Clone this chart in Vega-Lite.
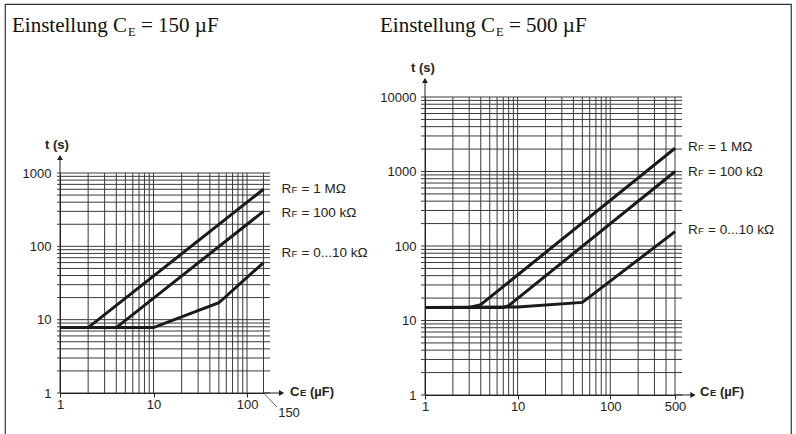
{
  "$schema": "https://vega.github.io/schema/vega-lite/v6.json",
  "width": 796,
  "height": 434,
  "autosize": {"type": "fit", "contains": "padding"},
  "padding": {"left": 5, "top": 4, "right": 5, "bottom": -4},
  "background": "white",
  "config": {
    "view": {"stroke": "#333", "strokeWidth": 1.2},
    "axis": {"labelFont": "Liberation Sans", "labelFontSize": 13, "labelColor": "#222", "domainColor": "#222", "tickColor": "#222", "grid": false, "labelOverlap": false, "labelFlush": false, "format": "d"},
    "text": {"font": "Liberation Sans", "fontSize": 13, "color": "#222"}
  },
  "datasets": {
    "one": [{}],
    "gridAx": [{"v":1},{"v":2},{"v":3},{"v":4},{"v":5},{"v":6},{"v":7},{"v":8},{"v":9},{"v":10},{"v":20},{"v":30},{"v":40},{"v":50},{"v":60},{"v":70},{"v":80},{"v":90},{"v":100},{"v":150}],
    "gridAy": [{"v":1},{"v":2},{"v":3},{"v":4},{"v":5},{"v":6},{"v":7},{"v":8},{"v":9},{"v":10},{"v":20},{"v":30},{"v":40},{"v":50},{"v":60},{"v":70},{"v":80},{"v":90},{"v":100},{"v":200},{"v":300},{"v":400},{"v":500},{"v":600},{"v":700},{"v":800},{"v":900},{"v":1000}],
    "gridBx": [{"v":1},{"v":2},{"v":3},{"v":4},{"v":5},{"v":6},{"v":7},{"v":8},{"v":9},{"v":10},{"v":20},{"v":30},{"v":40},{"v":50},{"v":60},{"v":70},{"v":80},{"v":90},{"v":100},{"v":200},{"v":300},{"v":400},{"v":500}],
    "gridBy": [{"v":1},{"v":2},{"v":3},{"v":4},{"v":5},{"v":6},{"v":7},{"v":8},{"v":9},{"v":10},{"v":20},{"v":30},{"v":40},{"v":50},{"v":60},{"v":70},{"v":80},{"v":90},{"v":100},{"v":200},{"v":300},{"v":400},{"v":500},{"v":600},{"v":700},{"v":800},{"v":900},{"v":1000},{"v":2000},{"v":3000},{"v":4000},{"v":5000},{"v":6000},{"v":7000},{"v":8000},{"v":9000},{"v":10000}],
    "lineA": [
      {"s":"1M","x":1,"t":7.8},{"s":"1M","x":2,"t":7.8},{"s":"1M","x":150,"t":600},
      {"s":"100k","x":1,"t":7.8},{"s":"100k","x":4,"t":7.8},{"s":"100k","x":150,"t":300},
      {"s":"10k","x":1,"t":7.8},{"s":"10k","x":10,"t":7.8},{"s":"10k","x":50,"t":17},{"s":"10k","x":150,"t":60}
    ],
    "lineB": [
      {"s":"1M","x":1,"t":15},{"s":"1M","x":3,"t":15},{"s":"1M","x":4,"t":16.3},{"s":"1M","x":500,"t":2050},
      {"s":"100k","x":1,"t":15},{"s":"100k","x":7,"t":15},{"s":"100k","x":8,"t":15.8},{"s":"100k","x":500,"t":1000},
      {"s":"10k","x":1,"t":15},{"s":"10k","x":10,"t":15.2},{"s":"10k","x":50,"t":17.5},{"s":"10k","x":500,"t":156}
    ],
    "labA": [{"s":"1M","ly":625,"rest":"= 1 MΩ"},{"s":"100k","ly":294,"rest":"= 100 kΩ"},{"s":"10k","ly":83.7,"rest":"= 0...10 kΩ"}],
    "labB": [{"s":"1M","ly":2198,"rest":"= 1 MΩ"},{"s":"100k","ly":1016,"rest":"= 100 kΩ"},{"s":"10k","ly":169,"rest":"= 0...10 kΩ"}]
  },
  "layer": [
    {
      "layer": [
        {"data": {"name": "gridAx"}, "mark": {"type": "rule", "color": "#3a3a3a", "strokeWidth": 1},
         "encoding": {
           "x": {"field": "v", "type": "quantitative", "scale": {"type": "log", "domain": [1, 150], "range": [55, 258.5], "nice": false},
                 "axis": {"orient": "bottom", "offset": -45, "values": [1, 10, 100], "tickSize": 4, "labelPadding": 1, "title": null, "zindex": 1, "format": "d"}},
           "y": {"datum": 1, "type": "quantitative"},
           "y2": {"datum": 1000}}},
        {"data": {"name": "gridAy"}, "mark": {"type": "rule", "color": "#3a3a3a", "strokeWidth": 1},
         "encoding": {
           "y": {"field": "v", "type": "quantitative", "scale": {"type": "log", "domain": [1, 1000], "range": [389, 169], "nice": false},
                 "axis": {"orient": "left", "offset": -55, "values": [1, 10, 100, 1000], "ticks": false, "labelPadding": 9, "title": null, "zindex": 1, "format": "d"}},
           "x": {"datum": 0.93, "type": "quantitative"},
           "x2": {"datum": 176}}},
        {"data": {"name": "lineA"}, "mark": {"type": "line", "color": "#1a1a1a", "strokeWidth": 3, "strokeJoin": "miter"},
         "encoding": {"x": {"field": "x", "type": "quantitative"}, "y": {"field": "t", "type": "quantitative"}, "detail": {"field": "s"}}},
        {"data": {"name": "one"}, "mark": {"type": "rule", "color": "#222", "strokeWidth": 1},
         "encoding": {"x": {"datum": 1, "type": "quantitative"}, "y": {"datum": 1000, "type": "quantitative"}, "y2": {"datum": 1700}}},
        {"data": {"name": "one"}, "mark": {"type": "point", "shape": "triangle-up", "filled": true, "size": 36, "color": "#222", "opacity": 1},
         "encoding": {"x": {"datum": 1, "type": "quantitative"}, "y": {"datum": 1627, "type": "quantitative"}}},
        {"data": {"name": "one"}, "mark": {"type": "rule", "color": "#222", "strokeWidth": 1},
         "encoding": {"x": {"datum": 150, "type": "quantitative"}, "x2": {"datum": 228}, "y": {"datum": 1, "type": "quantitative"}}},
        {"data": {"name": "one"}, "mark": {"type": "point", "shape": "triangle-right", "filled": true, "size": 36, "color": "#222", "opacity": 1},
         "encoding": {"x": {"datum": 234, "type": "quantitative"}, "y": {"datum": 1, "type": "quantitative"}}},
        {"data": {"name": "one"}, "mark": {"type": "rule", "color": "#444", "strokeWidth": 0.8},
         "encoding": {"x": {"datum": 150, "type": "quantitative"}, "y": {"datum": 1, "type": "quantitative"}, "x2": {"datum": 209}, "y2": {"datum": 0.644}}},
        {"data": {"name": "one"}, "mark": {"type": "text", "text": "150", "align": "center", "baseline": "middle"},
         "encoding": {"x": {"datum": 281, "type": "quantitative"}, "y": {"datum": 0.533, "type": "quantitative"}}},
        {"data": {"name": "one"}, "mark": {"type": "text", "text": "t (s)", "fontWeight": "bold", "align": "center", "baseline": "middle"},
         "encoding": {"x": {"datum": 0.929, "type": "quantitative"}, "y": {"datum": 2410, "type": "quantitative"}}},
        {"data": {"name": "one"}, "mark": {"type": "text", "text": "C", "fontWeight": "bold", "align": "left", "baseline": "alphabetic", "dx": 26.5, "dy": 3},
         "encoding": {"x": {"datum": 150, "type": "quantitative"}, "y": {"datum": 1, "type": "quantitative"}}},
        {"data": {"name": "one"}, "mark": {"type": "text", "text": "E", "fontWeight": "bold", "fontSize": 9.5, "align": "left", "baseline": "alphabetic", "dx": 36.5, "dy": 3},
         "encoding": {"x": {"datum": 150, "type": "quantitative"}, "y": {"datum": 1, "type": "quantitative"}}},
        {"data": {"name": "one"}, "mark": {"type": "text", "text": "(µF)", "fontWeight": "bold", "align": "left", "baseline": "alphabetic", "dx": 46.5, "dy": 3},
         "encoding": {"x": {"datum": 150, "type": "quantitative"}, "y": {"datum": 1, "type": "quantitative"}}},
        {"data": {"name": "one"}, "mark": {"type": "text", "text": "Einstellung C", "font": "Liberation Serif", "fontSize": 21, "align": "left", "baseline": "alphabetic", "color": "#111"},
         "encoding": {"x": {"datum": 0.3067, "type": "quantitative"}, "y": {"datum": 83800, "type": "quantitative"}}},
        {"data": {"name": "one"}, "mark": {"type": "text", "text": "E", "font": "Liberation Serif", "fontSize": 12.5, "align": "left", "baseline": "alphabetic", "dx": 116, "dy": 4, "color": "#111"},
         "encoding": {"x": {"datum": 0.3067, "type": "quantitative"}, "y": {"datum": 83800, "type": "quantitative"}}},
        {"data": {"name": "one"}, "mark": {"type": "text", "text": "= 150 µF", "font": "Liberation Serif", "fontSize": 21, "align": "left", "baseline": "alphabetic", "dx": 129, "color": "#111"},
         "encoding": {"x": {"datum": 0.3067, "type": "quantitative"}, "y": {"datum": 83800, "type": "quantitative"}}},
        {"data": {"name": "labA"}, "mark": {"type": "text", "text": "R", "fontSize": 13.5, "align": "left", "baseline": "alphabetic", "dx": 18, "dy": 5},
         "encoding": {"x": {"datum": 150, "type": "quantitative"}, "y": {"field": "ly", "type": "quantitative"}}},
        {"data": {"name": "labA"}, "mark": {"type": "text", "text": "F", "fontSize": 9.5, "align": "left", "baseline": "alphabetic", "dx": 28, "dy": 5},
         "encoding": {"x": {"datum": 150, "type": "quantitative"}, "y": {"field": "ly", "type": "quantitative"}}},
        {"data": {"name": "labA"}, "mark": {"type": "text", "fontSize": 13.5, "align": "left", "baseline": "alphabetic", "dx": 38, "dy": 5},
         "encoding": {"x": {"datum": 150, "type": "quantitative"}, "y": {"field": "ly", "type": "quantitative"}, "text": {"field": "rest"}}}
      ]
    },
    {
      "layer": [
        {"data": {"name": "gridBx"}, "mark": {"type": "rule", "color": "#3a3a3a", "strokeWidth": 1},
         "encoding": {
           "x": {"field": "v", "type": "quantitative", "scale": {"type": "log", "domain": [1, 500], "range": [420, 670], "nice": false},
                 "axis": {"orient": "bottom", "offset": -43, "values": [1, 10, 100, 500], "tickSize": 4, "labelPadding": 1, "title": null, "zindex": 1, "format": "d"}},
           "y": {"datum": 1, "type": "quantitative"},
           "y2": {"datum": 10000}}},
        {"data": {"name": "gridBy"}, "mark": {"type": "rule", "color": "#3a3a3a", "strokeWidth": 1},
         "encoding": {
           "y": {"field": "v", "type": "quantitative", "scale": {"type": "log", "domain": [1, 10000], "range": [391, 93], "nice": false},
                 "axis": {"orient": "left", "offset": -420, "values": [1, 10, 100, 1000, 10000], "ticks": false, "labelPadding": 9, "title": null, "zindex": 1, "format": "d"}},
           "x": {"datum": 0.905, "type": "quantitative"},
           "x2": {"datum": 596}}},
        {"data": {"name": "lineB"}, "mark": {"type": "line", "color": "#1a1a1a", "strokeWidth": 3, "strokeJoin": "miter"},
         "encoding": {"x": {"field": "x", "type": "quantitative"}, "y": {"field": "t", "type": "quantitative"}, "detail": {"field": "s"}}},
        {"data": {"name": "one"}, "mark": {"type": "rule", "color": "#222", "strokeWidth": 1},
         "encoding": {"x": {"datum": 1, "type": "quantitative"}, "y": {"datum": 10000, "type": "quantitative"}, "y2": {"datum": 17450}}},
        {"data": {"name": "one"}, "mark": {"type": "point", "shape": "triangle-up", "filled": true, "size": 36, "color": "#222", "opacity": 1},
         "encoding": {"x": {"datum": 1, "type": "quantitative"}, "y": {"datum": 16650, "type": "quantitative"}}},
        {"data": {"name": "one"}, "mark": {"type": "rule", "color": "#222", "strokeWidth": 1},
         "encoding": {"x": {"datum": 500, "type": "quantitative"}, "x2": {"datum": 744}, "y": {"datum": 1, "type": "quantitative"}}},
        {"data": {"name": "one"}, "mark": {"type": "point", "shape": "triangle-right", "filled": true, "size": 36, "color": "#222", "opacity": 1},
         "encoding": {"x": {"datum": 782, "type": "quantitative"}, "y": {"datum": 1, "type": "quantitative"}}},
        {"data": {"name": "one"}, "mark": {"type": "text", "text": "t (s)", "fontWeight": "bold", "align": "center", "baseline": "middle"},
         "encoding": {"x": {"datum": 0.9515, "type": "quantitative"}, "y": {"datum": 24500, "type": "quantitative"}}},
        {"data": {"name": "one"}, "mark": {"type": "text", "text": "C", "fontWeight": "bold", "align": "left", "baseline": "alphabetic", "dx": 25, "dy": 1},
         "encoding": {"x": {"datum": 500, "type": "quantitative"}, "y": {"datum": 1, "type": "quantitative"}}},
        {"data": {"name": "one"}, "mark": {"type": "text", "text": "E", "fontWeight": "bold", "fontSize": 9.5, "align": "left", "baseline": "alphabetic", "dx": 35, "dy": 1},
         "encoding": {"x": {"datum": 500, "type": "quantitative"}, "y": {"datum": 1, "type": "quantitative"}}},
        {"data": {"name": "one"}, "mark": {"type": "text", "text": "(µF)", "fontWeight": "bold", "align": "left", "baseline": "alphabetic", "dx": 45, "dy": 1},
         "encoding": {"x": {"datum": 500, "type": "quantitative"}, "y": {"datum": 1, "type": "quantitative"}}},
        {"data": {"name": "one"}, "mark": {"type": "text", "text": "Einstellung C", "font": "Liberation Serif", "fontSize": 21, "align": "left", "baseline": "alphabetic", "color": "#111"},
         "encoding": {"x": {"datum": 0.3266, "type": "quantitative"}, "y": {"datum": 74500, "type": "quantitative"}}},
        {"data": {"name": "one"}, "mark": {"type": "text", "text": "E", "font": "Liberation Serif", "fontSize": 12.5, "align": "left", "baseline": "alphabetic", "dx": 116, "dy": 4, "color": "#111"},
         "encoding": {"x": {"datum": 0.3266, "type": "quantitative"}, "y": {"datum": 74500, "type": "quantitative"}}},
        {"data": {"name": "one"}, "mark": {"type": "text", "text": "= 500 µF", "font": "Liberation Serif", "fontSize": 21, "align": "left", "baseline": "alphabetic", "dx": 129, "color": "#111"},
         "encoding": {"x": {"datum": 0.3266, "type": "quantitative"}, "y": {"datum": 74500, "type": "quantitative"}}},
        {"data": {"name": "labB"}, "mark": {"type": "text", "text": "R", "fontSize": 13.5, "align": "left", "baseline": "alphabetic", "dx": 13, "dy": 5},
         "encoding": {"x": {"datum": 500, "type": "quantitative"}, "y": {"field": "ly", "type": "quantitative"}}},
        {"data": {"name": "labB"}, "mark": {"type": "text", "text": "F", "fontSize": 9.5, "align": "left", "baseline": "alphabetic", "dx": 23, "dy": 5},
         "encoding": {"x": {"datum": 500, "type": "quantitative"}, "y": {"field": "ly", "type": "quantitative"}}},
        {"data": {"name": "labB"}, "mark": {"type": "text", "fontSize": 13.5, "align": "left", "baseline": "alphabetic", "dx": 33, "dy": 5},
         "encoding": {"x": {"datum": 500, "type": "quantitative"}, "y": {"field": "ly", "type": "quantitative"}, "text": {"field": "rest"}}}
      ]
    }
  ],
  "resolve": {"scale": {"x": "independent", "y": "independent"}}
}
